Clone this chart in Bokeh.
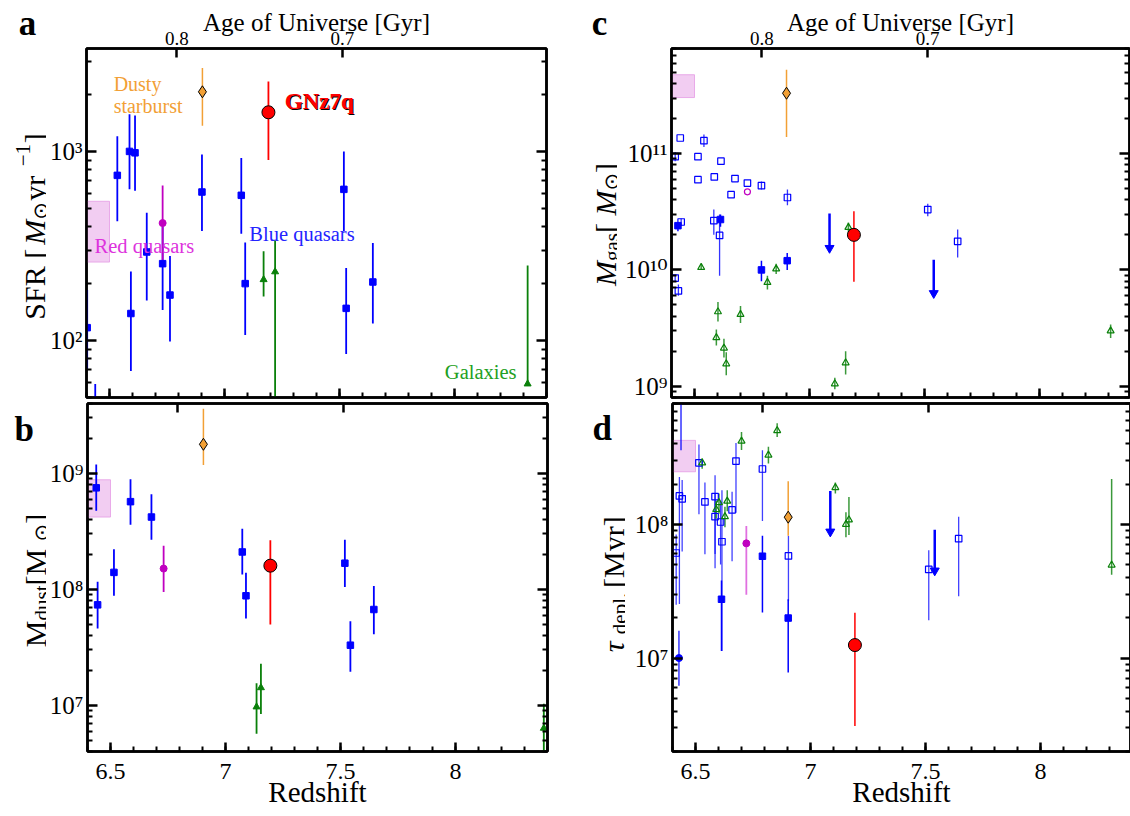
import math
import numpy as np
from bokeh.plotting import figure
from bokeh.models import (LogAxis, LinearAxis, FixedTicker,
                          SingleIntervalTicker, CustomJSTickFormatter,
                          NumeralTickFormatter, Label, Range1d, ColumnDataSource)
from bokeh.layouts import row, column
from bokeh.embed import file_html
from bokeh.resources import INLINE

FONT = "Liberation Serif"
TICKFONT = "'Liberation Serif', 'DejaVu Serif'"
SYM = "DejaVu Sans"

# ---------------- axes data ----------------
z_range_left = [6.4, 8.4]
z_range_right = [6.4, 8.391]
age_tick_labels = ["0.8", "0.7"]
age_tick_z = [6.793, 7.513]
sfr_range = [50, 3500]
mdust_range = [4e6, 4e9]
mgas_range = [8e8, 8e11]
tau_range = [2e6, 8e8]
redq_box_z = [6.4, 6.5]

# ---------------- panel a: SFR ----------------
a_blue_z = [6.403, 6.438, 6.534, 6.587, 6.611, 6.662, 6.593, 6.731, 6.763, 6.902, 7.073, 7.090, 7.519, 7.529, 7.645]
a_blue_v = [117, 35, 747, 1000, 983, 294, 139, 255, 174, 610, 586, 200, 630, 148, 204]
a_blue_lo = [71, 20, 427, 630, 619, 163, 69, 145, 99, 380, 367, 107, 377, 85, 123]
a_blue_hi = [185, 59, 1204, 1574, 1550, 474, 232, 400, 280, 964, 922, 330, 1000, 242, 328]
a_red_z = [6.731]
a_red_v = [418]
a_red_lo = [262]
a_red_hi = [661]
a_dsfg_z = [6.904]
a_dsfg_v = [2066]
a_dsfg_lo = [1365]
a_dsfg_hi = [2757]
a_gnz_z = [7.191]
a_gnz_v = [1610]
a_gnz_lo = [902]
a_gnz_hi = [2339]
a_gal_z = [7.170, 7.220, 8.318]
a_gal_v = [210, 231, 59]
a_gal_lo = [171, 30, 59]
a_gal_hi = [297, 339, 249]
a_box_v = [260, 545]

# ---------------- panel b: Mdust ----------------
b_blue_z = [6.438, 6.444, 6.515, 6.587, 6.678, 7.073, 7.089, 7.519, 7.543, 7.645]
b_blue_v = [7.5e8, 7.35e7, 1.40e8, 5.7e8, 4.2e8, 2.1e8, 8.8e7, 1.68e8, 3.3e7, 6.7e7]
b_blue_lo = [4.76e8, 4.6e7, 8.8e7, 3.6e8, 2.67e8, 1.34e8, 5.6e7, 1.05e8, 1.95e7, 4.1e7]
b_blue_hi = [1.19e9, 1.16e8, 2.22e8, 8.9e8, 6.6e8, 3.33e8, 1.39e8, 2.67e8, 5.3e7, 1.07e8]
b_red_z = [6.731]
b_red_v = [1.51e8]
b_red_lo = [9.5e7]
b_red_hi = [2.38e8]
b_dsfg_z = [6.904]
b_dsfg_v = [1.78e9]
b_dsfg_lo = [1.18e9]
b_dsfg_hi = [3.6e9]
b_gnz_z = [7.195]
b_gnz_v = [1.6e8]
b_gnz_lo = [4.98e7]
b_gnz_hi = [2.65e8]
b_gal_z = [7.135, 7.154, 8.384]
b_gal_v = [9.7e6, 1.42e7, 6.35e6]
b_gal_lo = [5.7e6, 8.4e6, 3.0e6]
b_gal_hi = [1.55e7, 2.28e7, 1.03e7]
b_box_v = [4.2e8, 8.8e8]

# ---------------- panel c: Mgas ----------------
c_bopen_z = [6.438, 6.541, 6.416, 6.515, 6.615, 6.515, 6.586, 6.676, 6.659, 6.730, 6.791, 6.904, 6.430, 6.416, 6.442, 6.584, 6.609, 7.514, 7.644]
c_bopen_v = [1.36e11, 1.29e11, 9.4e10, 9.4e10, 8.6e10, 5.96e10, 6.3e10, 6.1e10, 4.43e10, 5.58e10, 5.3e10, 4.19e10, 6.6e9, 8.5e9, 2.58e10, 2.65e10, 1.98e10, 3.3e10, 1.76e10]
c_bopen_lo = [1.36e11, 1.14e11, 8.6e10, 9.4e10, 8.6e10, 5.96e10, 6.3e10, 6.1e10, 4.43e10, 5.58e10, 4.9e10, 3.6e10, 6.0e9, 7.9e9, 2.4e10, 2.0e10, 8.9e9, 2.89e10, 1.28e10]
c_bopen_hi = [1.36e11, 1.46e11, 1.03e11, 9.4e10, 8.6e10, 5.96e10, 6.3e10, 6.1e10, 4.43e10, 5.58e10, 5.75e10, 4.9e10, 7.5e9, 9.1e9, 2.76e10, 3.3e10, 3.0e10, 3.7e10, 2.22e10]
c_bfill_z = [6.428, 6.613, 6.791, 6.903]
c_bfill_v = [2.40e10, 2.71e10, 1.0e10, 1.2e10]
c_bfill_lo = [2.15e10, 2.35e10, 8.0e9, 1.0e10]
c_bfill_hi = [2.55e10, 3.0e10, 1.2e10, 1.4e10]
c_blim_z = [7.087, 7.540]
c_blim_top = [3.05e10, 1.22e10]
c_blim_end = [1.54e10, 6.3e9]
c_red_z = [6.730]
c_red_v = [4.69e10]
c_dsfg_z = [6.900]
c_dsfg_v = [3.3e11]
c_dsfg_lo = [1.39e11]
c_dsfg_hi = [5.25e11]
c_gnz_z = [7.193]
c_gnz_v = [2.0e10]
c_gnz_lo = [7.9e9]
c_gnz_hi = [3.2e10]
c_gal_z = [6.529, 6.602, 6.700, 6.595, 6.628, 6.638, 6.817, 6.855, 7.110, 7.157, 7.169, 8.309]
c_gal_v = [1.05e10, 4.37e9, 4.14e9, 2.62e9, 2.13e9, 1.56e9, 7.8e9, 1.02e10, 1.05e9, 1.59e9, 2.32e10, 2.99e9]
c_gal_lo = [1.0e10, 3.6e9, 3.5e9, 2.24e9, 1.77e9, 1.24e9, 6.8e9, 9.2e9, 9.4e8, 1.26e9, 2.1e10, 2.6e9]
c_gal_hi = [1.1e10, 5.3e9, 4.9e9, 3.07e9, 2.56e9, 1.96e9, 8.9e9, 1.13e10, 1.18e9, 2.0e9, 2.55e10, 3.4e9]
c_box_v = [3.03e11, 4.76e11]

# ---------------- panel d: depletion time ----------------
d_bopen_z = [6.515, 6.430, 6.442, 6.416, 6.541, 6.585, 6.585, 6.609, 6.615, 6.659, 6.676, 6.791, 6.904, 7.514, 7.644]
d_bopen_v = [2.88e8, 1.63e8, 1.55e8, 6.1e7, 1.47e8, 1.61e8, 1.14e8, 1.04e8, 7.4e7, 1.28e8, 2.97e8, 2.59e8, 5.8e7, 4.6e7, 7.8e7]
d_bopen_lo = [1.19e8, 2.53e7, 6.25e7, 2.5e7, 5.97e7, 4.7e7, 6.0e7, 5.0e7, 1.13e7, 5.3e7, 1.22e8, 1.06e8, 2.67e7, 1.92e7, 2.9e7]
d_bopen_hi = [3.95e8, 2.26e8, 2.14e8, 8.4e7, 2.05e8, 2.33e8, 1.7e8, 1.5e8, 1.8e8, 1.75e8, 4.06e8, 3.57e8, 8.2e7, 6.4e7, 1.14e8]
d_bfill_z = [6.613, 6.791, 6.903]
d_bfill_v = [2.75e7, 5.77e7, 1.99e7]
d_bfill_lo = [1.13e7, 2.19e7, 7.8e6]
d_bfill_hi = [3.8e7, 8.2e7, 2.75e7]
d_bdot_z = [6.428, 6.437]
d_bdot_v = [1.0e7, 1.2e9]
d_bdot_lo = [6.2e6, 3.57e8]
d_bdot_hi = [1.6e7, 2.0e9]
d_blim_z = [7.086, 7.540]
d_blim_top = [1.77e8, 9.1e7]
d_blim_end = [8.8e7, 4.5e7]
d_red_z = [6.721]
d_red_v = [7.2e7]
d_red_lo = [2.97e7]
d_red_hi = [9.7e7]
d_dsfg_z = [6.903]
d_dsfg_v = [1.13e8]
d_dsfg_lo = [8.2e7]
d_dsfg_hi = [2.1e8]
d_gnz_z = [7.193]
d_gnz_v = [1.25e7]
d_gnz_lo = [3.1e6]
d_gnz_hi = [2.18e7]
d_gal_z = [6.529, 6.602, 6.590, 6.628, 6.638, 6.700, 6.817, 6.855, 7.108, 7.154, 7.167, 8.309]
d_gal_v = [2.88e8, 1.45e8, 1.29e8, 1.14e8, 1.49e8, 4.19e8, 3.29e8, 5.02e8, 1.88e8, 1.0e8, 1.08e8, 4.96e7]
d_gal_lo = [2.6e8, 1.2e8, 1.1e8, 9.5e7, 1.25e8, 3.6e8, 2.85e8, 4.5e8, 1.7e8, 8.0e7, 8.3e7, 4.2e7]
d_gal_hi = [3.1e8, 1.7e8, 1.5e8, 1.35e8, 1.8e8, 4.9e8, 3.8e8, 5.7e8, 2.05e8, 1.23e8, 1.6e8, 2.18e8]
d_box_v = [2.47e8, 4.24e8]

BLUE = "#0000ff"
MAG = "#c000c0"
GREEN = "#0a800a"
ORANGE = "#f2a035"
PINK = "#e59be5"

blank = CustomJSTickFormatter(code="return ''")
pow_fmt = CustomJSTickFormatter(code="""
const sup = {'0':'\u2070','1':'\u00b9','2':'\u00b2','3':'\u00b3','4':'\u2074','5':'\u2075','6':'\u2076','7':'\u2077','8':'\u2078','9':'\u2079','-':'\u207b'};
const e = Math.round(Math.log10(tick));
return '10' + String(e).split('').map(c => sup[c]).join('');
""")


def log_ticker(lo, hi):
    k0 = math.floor(math.log10(lo))
    k1 = math.floor(math.log10(hi))
    majors = [10.0 ** k for k in range(k0, k1 + 1) if lo <= 10.0 ** k <= hi]
    minors = [m * 10.0 ** k for k in range(k0, k1 + 1) for m in range(2, 10)
              if lo <= m * 10.0 ** k <= hi]
    return FixedTicker(ticks=majors, minor_ticks=minors)


def style_axis(ax, size="25px", standoff=6, major_in=10, minor_in=5, font=FONT):
    ax.axis_line_color = "black"
    ax.axis_line_width = 2.5
    ax.major_tick_in = major_in
    ax.major_tick_out = 0
    ax.minor_tick_in = minor_in
    ax.minor_tick_out = 0
    ax.major_tick_line_width = 2.5
    ax.minor_tick_line_width = 2
    ax.major_label_text_font = font
    ax.major_label_text_font_size = size
    ax.major_label_text_color = "black"
    ax.major_label_standoff = standoff


def make_fig(xr, yr, fw, fh, bl, br, bt, bb, top_labels, bottom_labels):
    p = figure(x_range=Range1d(*xr), y_range=Range1d(*yr), y_axis_type="log",
               frame_width=fw, frame_height=fh, min_border_left=bl,
               min_border_right=br, min_border_top=bt, min_border_bottom=bb,
               toolbar_location=None, output_backend="svg", title=None,
               background_fill_color="white", border_fill_color="white")
    p.grid.visible = False
    p.outline_line_color = "black"
    p.outline_line_width = 2.5
    yl = p.yaxis[0]
    yl.ticker = log_ticker(*yr)
    yl.formatter = pow_fmt
    style_axis(yl, size="25px", standoff=4, font=TICKFONT)
    yr_ax = LogAxis(ticker=log_ticker(*yr), formatter=blank)
    style_axis(yr_ax, standoff=0)
    p.add_layout(yr_ax, "right")
    xb = p.xaxis[0]
    xb.ticker = SingleIntervalTicker(interval=0.5, num_minor_ticks=5)
    if bottom_labels:
        xb.formatter = NumeralTickFormatter(format="0.[0]")
        style_axis(xb, size="24px", standoff=12, major_in=9, minor_in=5)
        xb.axis_label = "Redshift"
        xb.axis_label_text_font = FONT
        xb.axis_label_text_font_size = "29px"
        xb.axis_label_text_font_style = "normal"
        xb.axis_label_text_color = "black"
        xb.axis_label_standoff = -6
    else:
        xb.formatter = blank
        style_axis(xb, standoff=0, major_in=9, minor_in=5)
    xt = LinearAxis(ticker=FixedTicker(ticks=age_tick_z, minor_ticks=[]))
    if top_labels:
        xt.formatter = CustomJSTickFormatter(args=dict(labels=age_tick_labels),
                                             code="return labels[index]")
        style_axis(xt, size="19px", standoff=4, major_in=9)
        xt.axis_label = "Age of Universe [Gyr]"
        xt.axis_label_text_font = FONT
        xt.axis_label_text_font_size = "25px"
        xt.axis_label_text_font_style = "normal"
        xt.axis_label_text_color = "black"
        xt.axis_label_standoff = -7
    else:
        xt.formatter = blank
        style_axis(xt, standoff=0, major_in=9)
    p.add_layout(xt, "above")
    return p


def text_fig(w, h):
    f = figure(width=w, height=h, x_range=Range1d(0, w), y_range=Range1d(0, h),
               min_border=0, toolbar_location=None, output_backend="svg", title=None,
               x_axis_location=None, y_axis_location=None,
               background_fill_color="white", border_fill_color="white")
    f.outline_line_color = None
    f.grid.visible = False
    return f


def letter_axis(f, x, letter):
    # panel letter shown as the single tick label of a bare top axis
    ax = LinearAxis(ticker=FixedTicker(ticks=[x], minor_ticks=[]),
                    formatter=CustomJSTickFormatter(args=dict(t=letter), code="return t"))
    ax.axis_line_color = None
    ax.major_tick_line_color = None
    ax.minor_tick_line_color = None
    ax.major_tick_in = 0
    ax.major_tick_out = 0
    ax.minor_tick_in = 0
    ax.minor_tick_out = 0
    ax.major_label_text_font = FONT
    ax.major_label_text_font_size = "35px"
    ax.major_label_text_font_style = "bold"
    ax.major_label_text_color = "black"
    ax.major_label_standoff = 6
    f.add_layout(ax, "above")


def errbars(p, z, lo, hi, color, width, alpha=1.0):
    src = ColumnDataSource(dict(x=z, y0=lo, y1=hi))
    p.segment(x0="x", y0="y0", x1="x", y1="y1", source=src,
              line_color=color, line_width=width, line_alpha=alpha)


def pts(p, z, v, marker, size, fill, line, lw=1.0, fill_alpha=1.0):
    src = ColumnDataSource(dict(x=z, y=v))
    p.scatter(x="x", y="y", source=src, marker=marker, size=size,
              fill_color=fill, line_color=line, line_width=lw, fill_alpha=fill_alpha)


def limits(p, z, top, end, color):
    src = ColumnDataSource(dict(x=z, y0=top, y1=end))
    p.segment(x0="x", y0="y0", x1="x", y1="y1", source=src, line_color=color, line_width=2.5)
    p.scatter(x="x", y="y1", source=src, marker="inverted_triangle", size=9,
              fill_color=color, line_color=color)


def box(p, v):
    src = ColumnDataSource(dict(l=[redq_box_z[0]], r=[redq_box_z[1]], b=[v[0]], t=[v[1]]))
    p.quad(left="l", right="r", bottom="b", top="t", source=src,
           fill_color=PINK, fill_alpha=0.5, line_color=PINK, line_alpha=0.8, line_width=1)


def txt(p, text, x, y, units="screen", size="20px", color="black", style="normal",
        align="left", baseline="alphabetic", font=FONT):
    p.add_layout(Label(x=x, y=y, x_units=units, y_units=units, text=text,
                       text_font=font, text_font_size=size, text_color=color,
                       text_font_style=style, text_align=align,
                       text_baseline=baseline))


def vtitle(p, pieces, xb, yc, F=30):
    total = sum(w * s for (_, s, _, _, _, w) in pieces) * F
    y = yc - total / 2
    for text, s, style, shift, font, w in pieces:
        p.add_layout(Label(x=xb + shift * F, y=y, x_units="screen", y_units="screen",
                           text=text, angle=np.pi / 2, text_align="left",
                           text_baseline="alphabetic", text_font=font,
                           text_font_size=f"{s * F:.1f}px", text_font_style=style,
                           text_color="black"))
        y += w * s * F


# ---------------- panel a ----------------
pa = make_fig(z_range_left, sfr_range, 460, 349, 40, 8, 46, 4, True, False)
box(pa, a_box_v)
errbars(pa, a_blue_z, a_blue_lo, a_blue_hi, BLUE, 1.8)
errbars(pa, a_red_z, a_red_lo, a_red_hi, MAG, 1.8)
errbars(pa, a_gal_z, a_gal_lo, a_gal_hi, GREEN, 1.8)
errbars(pa, a_dsfg_z, a_dsfg_lo, a_dsfg_hi, ORANGE, 1.5)
errbars(pa, a_gnz_z, a_gnz_lo, a_gnz_hi, "red", 1.8)
pts(pa, a_blue_z, a_blue_v, "square", 6.5, BLUE, BLUE)
pts(pa, a_red_z, a_red_v, "circle", 7, MAG, MAG)
pts(pa, a_gal_z, a_gal_v, "triangle", 7, GREEN, GREEN)
pts(pa, a_dsfg_z, a_dsfg_v, "diamond", 12, ORANGE, "black")
pts(pa, a_gnz_z, a_gnz_v, "circle", 13, "red", "black")
txt(pa, "Dusty", 6.518, 2265, units="data", size="20px", color=ORANGE)
txt(pa, "starburst", 6.518, 1734, units="data", size="20px", color=ORANGE)
txt(pa, "GNz7q", 7.266, 1820, units="data", size="23px", color="black", style="bold")
txt(pa, "GNz7q", 7.262, 1845, units="data", size="23px", color="red", style="bold")
txt(pa, "Red quasars", 6.435, 315, units="data", size="20.5px", color="#dd33dd")
txt(pa, "Blue quasars", 7.108, 367, units="data", size="20.5px", color="#2424ff")
txt(pa, "Galaxies", 7.958, 68.5, units="data", size="20.5px", color="#22a022")

ta = text_fig(46, 399)
letter_axis(ta, 27, "a")
vtitle(ta, [("SFR [", 1, "normal", 0, FONT, 2.5),
            ("M", 1, "italic", 0, FONT, 0.833),
            ("\u2299", 0.7, "normal", 0.2, SYM, 0.9),
            (" yr", 1, "normal", 0, FONT, 1.15),
            ("\u22121", 0.7, "normal", -0.38, FONT, 1.1),
            ("]", 1, "normal", 0, FONT, 0.333)], 34, 169)

# ---------------- panel b ----------------
pb = make_fig(z_range_left, mdust_range, 460, 348, 40, 8, 4, 65, False, True)
box(pb, b_box_v)
errbars(pb, b_blue_z, b_blue_lo, b_blue_hi, BLUE, 1.8)
errbars(pb, b_red_z, b_red_lo, b_red_hi, MAG, 1.8)
errbars(pb, b_gal_z, b_gal_lo, b_gal_hi, GREEN, 1.8)
errbars(pb, b_dsfg_z, b_dsfg_lo, b_dsfg_hi, ORANGE, 1.5)
errbars(pb, b_gnz_z, b_gnz_lo, b_gnz_hi, "red", 1.8)
pts(pb, b_blue_z, b_blue_v, "square", 6.5, BLUE, BLUE)
pts(pb, b_red_z, b_red_v, "circle", 7, MAG, MAG)
pts(pb, b_gal_z, b_gal_v, "triangle", 7, GREEN, GREEN)
pts(pb, b_dsfg_z, b_dsfg_v, "diamond", 12, ORANGE, "black")
pts(pb, b_gnz_z, b_gnz_v, "circle", 13, "red", "black")

tb = text_fig(46, 417)
txt(tb, "b", 14, 322, size="35px", style="bold")
vtitle(tb, [("M", 1, "normal", 0, FONT, 0.889),
            ("dust", 0.7, "normal", 0.22, FONT, 1.667),
            (" [M", 1, "normal", 0, FONT, 1.472),
            ("\u2299", 0.7, "normal", 0.2, SYM, 0.838),
            ("]", 1, "normal", 0, FONT, 0.333)], 35, 171)

# ---------------- panel c ----------------
pc = make_fig(z_range_right, mgas_range, 458, 349, 54, 1, 46, 4, True, False)
box(pc, c_box_v)
errbars(pc, c_bopen_z, c_bopen_lo, c_bopen_hi, BLUE, 1.3, 0.8)
errbars(pc, c_bfill_z, c_bfill_lo, c_bfill_hi, BLUE, 1.5)
errbars(pc, c_gal_z, c_gal_lo, c_gal_hi, GREEN, 1.5, 0.8)
errbars(pc, c_dsfg_z, c_dsfg_lo, c_dsfg_hi, ORANGE, 1.5)
errbars(pc, c_gnz_z, c_gnz_lo, c_gnz_hi, "red", 1.5)
limits(pc, c_blim_z, c_blim_top, c_blim_end, BLUE)
pts(pc, c_bopen_z, c_bopen_v, "square", 6.5, "white", BLUE, 1.2, 0.0)
pts(pc, c_bfill_z, c_bfill_v, "square", 6.5, BLUE, BLUE)
pts(pc, c_red_z, c_red_v, "circle", 6, "white", MAG, 1.2, 0.0)
pts(pc, c_gal_z, c_gal_v, "triangle", 7, "white", GREEN, 1.2, 0.0)
pts(pc, c_dsfg_z, c_dsfg_v, "diamond", 12, ORANGE, "black")
pts(pc, c_gnz_z, c_gnz_v, "circle", 13, "red", "black")

tc = text_fig(63, 399)
letter_axis(tc, 45, "c")
vtitle(tc, [("M", 1, "italic", 0, FONT, 0.833),
            ("gas", 0.7, "normal", 0.22, FONT, 1.333),
            (" [", 1, "normal", 0, FONT, 0.583),
            ("M", 1, "italic", 0, FONT, 0.833),
            ("\u2299", 0.7, "normal", 0.2, SYM, 0.838),
            ("]", 1, "normal", 0, FONT, 0.333)], 51, 171)

# ---------------- panel d ----------------
pd_ = make_fig(z_range_right, tau_range, 458, 348, 47, 1, 4, 65, False, True)
box(pd_, d_box_v)
errbars(pd_, d_bopen_z, d_bopen_lo, d_bopen_hi, BLUE, 1.3, 0.75)
errbars(pd_, d_bfill_z, d_bfill_lo, d_bfill_hi, BLUE, 1.5)
errbars(pd_, d_bdot_z, d_bdot_lo, d_bdot_hi, BLUE, 1.5, 0.8)
errbars(pd_, d_red_z, d_red_lo, d_red_hi, "#e070e0", 1.8)
errbars(pd_, d_gal_z, d_gal_lo, d_gal_hi, GREEN, 1.5, 0.8)
errbars(pd_, d_dsfg_z, d_dsfg_lo, d_dsfg_hi, ORANGE, 1.5)
errbars(pd_, d_gnz_z, d_gnz_lo, d_gnz_hi, "red", 1.5)
limits(pd_, d_blim_z, d_blim_top, d_blim_end, BLUE)
pts(pd_, d_bopen_z, d_bopen_v, "square", 6.5, "white", BLUE, 1.2, 0.0)
pts(pd_, d_bfill_z, d_bfill_v, "square", 6.5, BLUE, BLUE)
pts(pd_, d_bdot_z, d_bdot_v, "circle", 7, BLUE, BLUE)
pts(pd_, d_red_z, d_red_v, "circle", 7, MAG, MAG)
pts(pd_, d_gal_z, d_gal_v, "triangle", 7, "white", GREEN, 1.2, 0.0)
pts(pd_, d_dsfg_z, d_dsfg_v, "diamond", 12, ORANGE, "black")
pts(pd_, d_gnz_z, d_gnz_v, "circle", 13, "red", "black")

td = text_fig(70, 417)
txt(td, "d", 37, 323, size="35px", style="bold")
vtitle(td, [("\u03c4", 1, "italic", 0, FONT, 0.6),
            ("depl.", 0.7, "normal", 0.22, FONT, 2.2),
            (" [Myr]", 1, "normal", 0, FONT, 2.638)], 58, 171)

layout = column(row(ta, pa, tc, pc), row(tb, pb, td, pd_))
open("out.html", "w", encoding="utf-8").write(file_html(layout, INLINE))
